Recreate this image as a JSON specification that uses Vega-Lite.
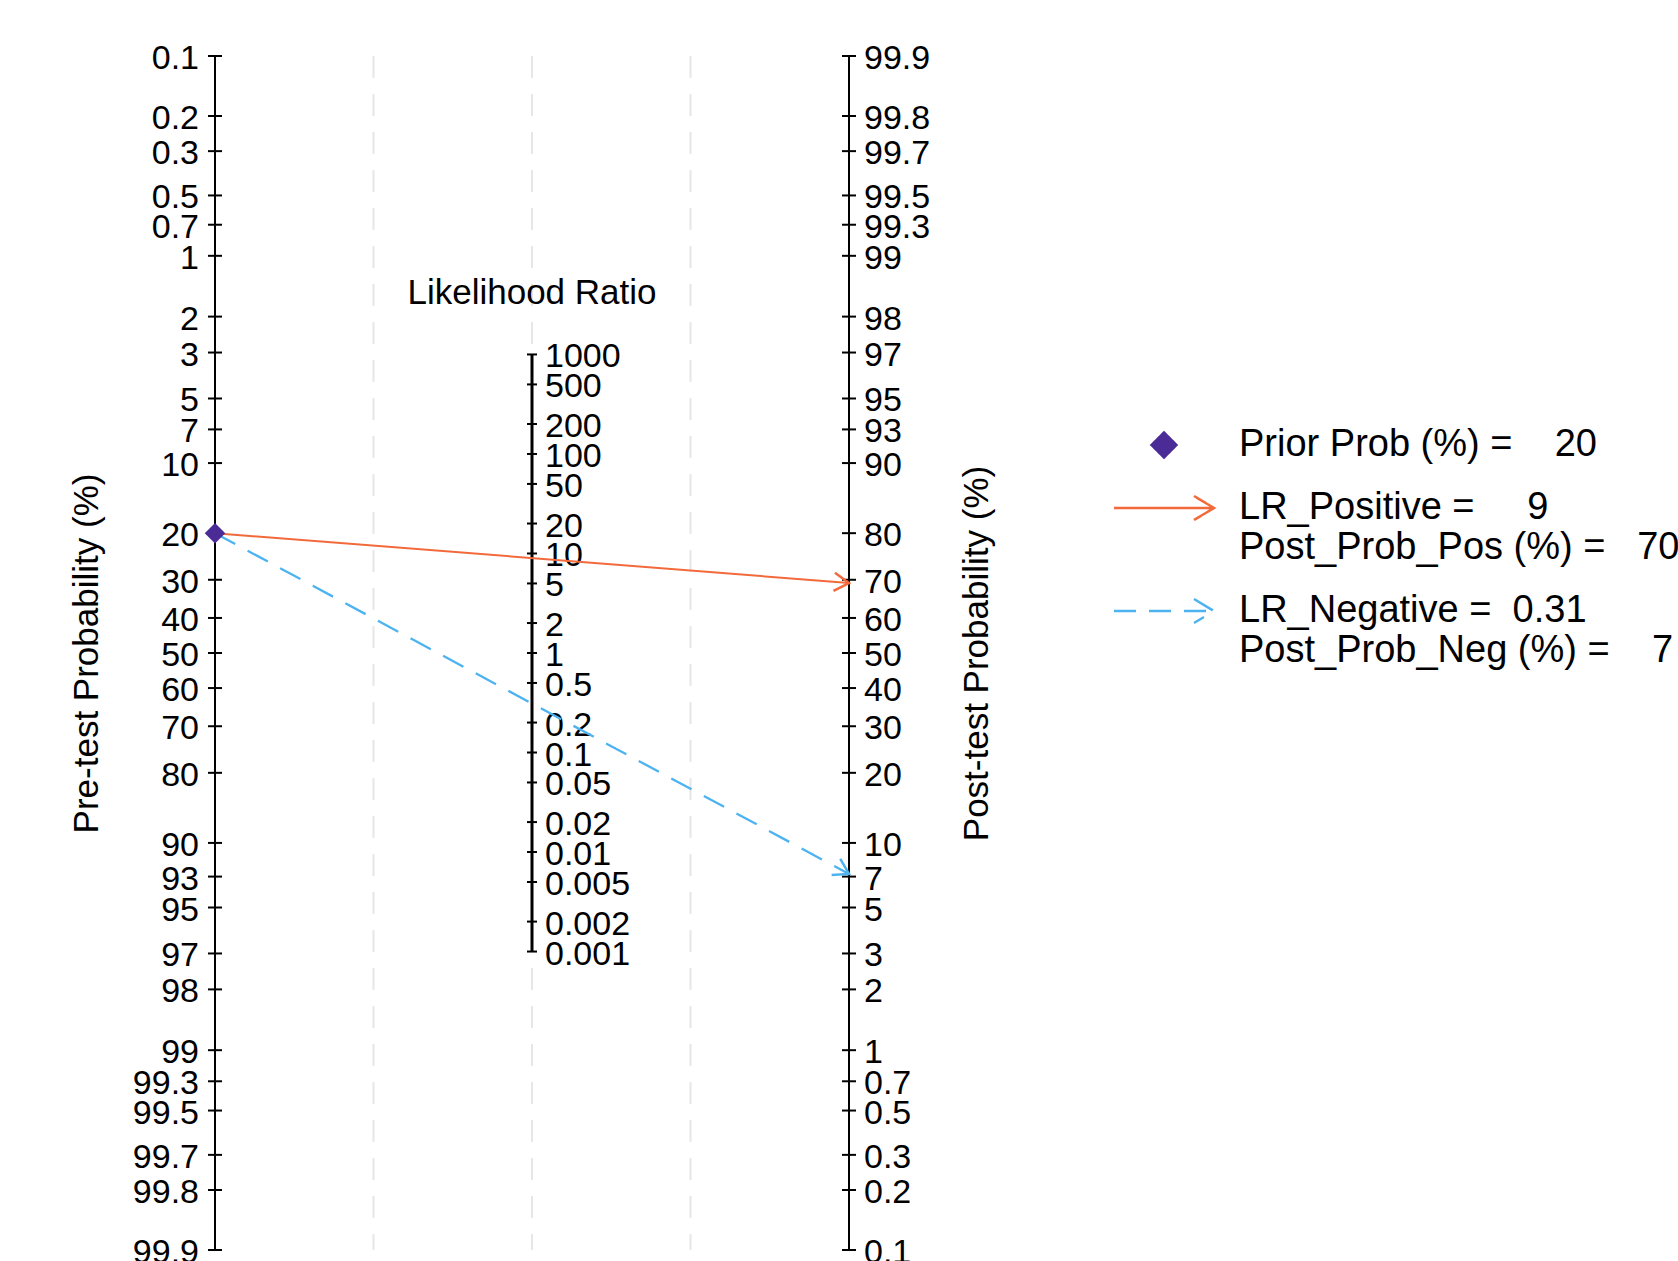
{
  "$schema": "https://vega.github.io/schema/vega-lite/v6.json",
  "width": 634,
  "height": 1194,
  "autosize": {"type": "none"},
  "padding": {"left": 215, "top": 56, "right": 829, "bottom": 11},
  "background": "white",
  "config": {
    "font": "Liberation Sans",
    "view": {"stroke": null},
    "axis": {"titleFont": "Liberation Sans", "titleFontWeight": "normal", "titleColor": "black", "titleFontSize": 35}
  },
  "datasets": {
    "ticks": [
      {"axis": "Pre", "value": 0.1}, {"axis": "Pre", "value": 0.2}, {"axis": "Pre", "value": 0.3}, {"axis": "Pre", "value": 0.5}, {"axis": "Pre", "value": 0.7},
      {"axis": "Pre", "value": 1}, {"axis": "Pre", "value": 2}, {"axis": "Pre", "value": 3}, {"axis": "Pre", "value": 5}, {"axis": "Pre", "value": 7},
      {"axis": "Pre", "value": 10}, {"axis": "Pre", "value": 20}, {"axis": "Pre", "value": 30}, {"axis": "Pre", "value": 40}, {"axis": "Pre", "value": 50},
      {"axis": "Pre", "value": 60}, {"axis": "Pre", "value": 70}, {"axis": "Pre", "value": 80}, {"axis": "Pre", "value": 90}, {"axis": "Pre", "value": 93},
      {"axis": "Pre", "value": 95}, {"axis": "Pre", "value": 97}, {"axis": "Pre", "value": 98}, {"axis": "Pre", "value": 99}, {"axis": "Pre", "value": 99.3},
      {"axis": "Pre", "value": 99.5}, {"axis": "Pre", "value": 99.7}, {"axis": "Pre", "value": 99.8}, {"axis": "Pre", "value": 99.9},
      {"axis": "Post", "value": 0.1}, {"axis": "Post", "value": 0.2}, {"axis": "Post", "value": 0.3}, {"axis": "Post", "value": 0.5}, {"axis": "Post", "value": 0.7},
      {"axis": "Post", "value": 1}, {"axis": "Post", "value": 2}, {"axis": "Post", "value": 3}, {"axis": "Post", "value": 5}, {"axis": "Post", "value": 7},
      {"axis": "Post", "value": 10}, {"axis": "Post", "value": 20}, {"axis": "Post", "value": 30}, {"axis": "Post", "value": 40}, {"axis": "Post", "value": 50},
      {"axis": "Post", "value": 60}, {"axis": "Post", "value": 70}, {"axis": "Post", "value": 80}, {"axis": "Post", "value": 90}, {"axis": "Post", "value": 93},
      {"axis": "Post", "value": 95}, {"axis": "Post", "value": 97}, {"axis": "Post", "value": 98}, {"axis": "Post", "value": 99}, {"axis": "Post", "value": 99.3},
      {"axis": "Post", "value": 99.5}, {"axis": "Post", "value": 99.7}, {"axis": "Post", "value": 99.8}, {"axis": "Post", "value": 99.9},
      {"axis": "LR", "value": 1000}, {"axis": "LR", "value": 500}, {"axis": "LR", "value": 200}, {"axis": "LR", "value": 100}, {"axis": "LR", "value": 50},
      {"axis": "LR", "value": 20}, {"axis": "LR", "value": 10}, {"axis": "LR", "value": 5}, {"axis": "LR", "value": 2}, {"axis": "LR", "value": 1},
      {"axis": "LR", "value": 0.5}, {"axis": "LR", "value": 0.2}, {"axis": "LR", "value": 0.1}, {"axis": "LR", "value": 0.05}, {"axis": "LR", "value": 0.02},
      {"axis": "LR", "value": 0.01}, {"axis": "LR", "value": 0.005}, {"axis": "LR", "value": 0.002}, {"axis": "LR", "value": 0.001}
    ],
    "lines": [
      {"test": "Positive", "axis": "Pre", "value": 20},
      {"test": "Positive", "axis": "Post", "value": 69.2},
      {"test": "Negative", "axis": "Pre", "value": 20},
      {"test": "Negative", "axis": "Post", "value": 7.2}
    ],
    "summary": [
      {"series": "Prior Prob (%) =\u00a0\u00a0\u00a0\u00a020", "axis": "Pre", "value": 20},
      {"series": "LR_Positive =\u00a0\u00a0\u00a0\u00a0\u00a09|Post_Prob_Pos (%) =\u00a0\u00a0\u00a070", "axis": "Post", "value": 69.2},
      {"series": "LR_Negative =\u00a0\u00a00.31|Post_Prob_Neg (%) =\u00a0\u00a0\u00a0\u00a07", "axis": "Post", "value": 7.2}
    ]
  },
  "resolve": {"axis": {"y": "independent"}},
  "layer": [
    {
      "data": {"values": [{"axis": "g1"}, {"axis": "LR"}, {"axis": "g2"}]},
      "mark": {"type": "rule", "strokeWidth": 2, "color": "#e6e6e6", "strokeDash": [22, 16]},
      "encoding": {
        "x": {"field": "axis", "type": "nominal",
              "scale": {"type": "point", "domain": ["Pre", "g1", "LR", "g2", "Post"], "padding": 0},
              "axis": null}
      }
    },
    {
      "data": {"name": "ticks"},
      "transform": [
        {"filter": "datum.axis != 'LR'"},
        {"calculate": "datum.axis == 'Pre' ? log((100 - datum.value) / datum.value) : log(datum.value / (100 - datum.value))", "as": "v"}
      ],
      "mark": {"type": "rule", "strokeWidth": 2, "color": "black"},
      "encoding": {
        "x": {"field": "axis", "type": "nominal", "axis": null},
        "y": {"aggregate": "min", "field": "v", "type": "quantitative", "scale": {"nice": false, "zero": false}, "axis": null},
        "y2": {"aggregate": "max", "field": "v"}
      }
    },
    {
      "data": {"name": "ticks"},
      "transform": [
        {"filter": "datum.axis == 'LR'"},
        {"calculate": "log(datum.value) / 2", "as": "v"}
      ],
      "mark": {"type": "rule", "strokeWidth": 3, "color": "black"},
      "encoding": {
        "x": {"field": "axis", "type": "nominal", "axis": null},
        "y": {"aggregate": "min", "field": "v", "type": "quantitative", "axis": null},
        "y2": {"aggregate": "max", "field": "v"}
      }
    },
    {
      "data": {"name": "ticks"},
      "transform": [
        {"filter": "datum.axis == 'Pre'"},
        {"calculate": "log((100 - datum.value) / datum.value)", "as": "v"}
      ],
      "mark": {"type": "tick", "size": 14, "thickness": 2, "color": "black", "opacity": 1},
      "encoding": {
        "x": {"field": "axis", "type": "nominal", "axis": null},
        "y": {"field": "v", "type": "quantitative",
              "axis": {"orient": "left", "title": "Pre-test Probability (%)", "labels": false, "ticks": false, "domain": false, "grid": false, "titlePadding": 111}}
      }
    },
    {
      "data": {"name": "ticks"},
      "transform": [
        {"filter": "datum.axis == 'Post'"},
        {"calculate": "log(datum.value / (100 - datum.value))", "as": "v"}
      ],
      "mark": {"type": "tick", "size": 14, "thickness": 2, "color": "black", "opacity": 1},
      "encoding": {
        "x": {"field": "axis", "type": "nominal", "axis": null},
        "y": {"field": "v", "type": "quantitative",
              "axis": {"orient": "right", "title": "Post-test Probability (%)", "titleAngle": 270, "titleBaseline": "top", "labels": false, "ticks": false, "domain": false, "grid": false, "titlePadding": 110}}
      }
    },
    {
      "data": {"name": "ticks"},
      "transform": [
        {"filter": "datum.axis == 'LR'"},
        {"calculate": "log(datum.value) / 2", "as": "v"}
      ],
      "mark": {"type": "tick", "size": 10, "thickness": 2, "color": "black", "opacity": 1},
      "encoding": {
        "x": {"field": "axis", "type": "nominal", "axis": null},
        "y": {"field": "v", "type": "quantitative", "axis": null}
      }
    },
    {
      "data": {"name": "ticks"},
      "transform": [
        {"filter": "datum.axis == 'Pre'"},
        {"calculate": "log((100 - datum.value) / datum.value)", "as": "v"}
      ],
      "mark": {"type": "text", "align": "right", "baseline": "middle", "dx": -16, "dy": 3, "fontSize": 34, "color": "black"},
      "encoding": {
        "x": {"field": "axis", "type": "nominal", "axis": null},
        "y": {"field": "v", "type": "quantitative", "axis": null},
        "text": {"field": "value", "type": "nominal"}
      }
    },
    {
      "data": {"name": "ticks"},
      "transform": [
        {"filter": "datum.axis == 'Post'"},
        {"calculate": "log(datum.value / (100 - datum.value))", "as": "v"}
      ],
      "mark": {"type": "text", "align": "left", "baseline": "middle", "dx": 15, "dy": 3, "fontSize": 34, "color": "black"},
      "encoding": {
        "x": {"field": "axis", "type": "nominal", "axis": null},
        "y": {"field": "v", "type": "quantitative", "axis": null},
        "text": {"field": "value", "type": "nominal"}
      }
    },
    {
      "data": {"name": "ticks"},
      "transform": [
        {"filter": "datum.axis == 'LR'"},
        {"calculate": "log(datum.value) / 2", "as": "v"}
      ],
      "mark": {"type": "text", "align": "left", "baseline": "middle", "dx": 13, "dy": 3, "fontSize": 34, "color": "black"},
      "encoding": {
        "x": {"field": "axis", "type": "nominal", "axis": null},
        "y": {"field": "v", "type": "quantitative", "axis": null},
        "text": {"field": "value", "type": "nominal"}
      }
    },
    {
      "data": {"name": "ticks"},
      "transform": [
        {"filter": "datum.axis == 'LR' && datum.value == 1000"},
        {"calculate": "log(datum.value) / 2", "as": "v"}
      ],
      "mark": {"type": "text", "text": "Likelihood Ratio", "align": "center", "baseline": "alphabetic", "dy": -50, "fontSize": 35, "color": "black"},
      "encoding": {
        "x": {"field": "axis", "type": "nominal", "axis": null},
        "y": {"field": "v", "type": "quantitative", "axis": null}
      }
    },
    {
      "data": {"name": "lines"},
      "transform": [
        {"filter": "datum.test == 'Positive'"},
        {"calculate": "datum.axis == 'Pre' ? log((100 - datum.value) / datum.value) : log(datum.value / (100 - datum.value))", "as": "v"}
      ],
      "mark": {"type": "line", "color": "#F26A3C", "strokeWidth": 2},
      "encoding": {
        "x": {"field": "axis", "type": "nominal", "axis": null},
        "y": {"field": "v", "type": "quantitative", "axis": null}
      }
    },
    {
      "data": {"name": "lines"},
      "transform": [
        {"filter": "datum.test == 'Negative'"},
        {"calculate": "datum.axis == 'Pre' ? log((100 - datum.value) / datum.value) : log(datum.value / (100 - datum.value))", "as": "v"}
      ],
      "mark": {"type": "line", "color": "#4DB3F0", "strokeWidth": 2.3, "strokeDash": [23, 14]},
      "encoding": {
        "x": {"field": "axis", "type": "nominal", "sort": ["Pre", "Post"], "axis": null},
        "y": {"field": "v", "type": "quantitative", "axis": null}
      }
    },
    {
      "data": {"name": "lines"},
      "transform": [
        {"filter": "datum.test == 'Positive' && datum.axis == 'Post'"},
        {"calculate": "log(datum.value / (100 - datum.value))", "as": "v"}
      ],
      "mark": {"type": "point", "shape": "M-2.6,-1.6L0,0L-2.6,1.6", "size": 130, "angle": 4.5, "filled": false, "color": "#F26A3C", "strokeWidth": 2.5, "opacity": 1},
      "encoding": {
        "x": {"field": "axis", "type": "nominal", "axis": null},
        "y": {"field": "v", "type": "quantitative", "axis": null}
      }
    },
    {
      "data": {"name": "lines"},
      "transform": [
        {"filter": "datum.test == 'Negative' && datum.axis == 'Post'"},
        {"calculate": "log(datum.value / (100 - datum.value))", "as": "v"}
      ],
      "mark": {"type": "point", "shape": "M-2.6,-1.6L0,0L-2.6,1.6", "size": 130, "angle": 28.3, "filled": false, "color": "#4DB3F0", "strokeWidth": 2.5, "opacity": 1},
      "encoding": {
        "x": {"field": "axis", "type": "nominal", "axis": null},
        "y": {"field": "v", "type": "quantitative", "axis": null}
      }
    },
    {
      "data": {"name": "lines"},
      "transform": [
        {"filter": "datum.test == 'Positive' && datum.axis == 'Pre'"},
        {"calculate": "log((100 - datum.value) / datum.value)", "as": "v"}
      ],
      "mark": {"type": "point", "shape": "diamond", "size": 420, "filled": true, "color": "#4B2C97", "opacity": 1},
      "encoding": {
        "x": {"field": "axis", "type": "nominal", "axis": null},
        "y": {"field": "v", "type": "quantitative", "axis": null}
      }
    },
    {
      "data": {"name": "summary"},
      "transform": [
        {"calculate": "datum.axis == 'Pre' ? log((100 - datum.value) / datum.value) : log(datum.value / (100 - datum.value))", "as": "v"}
      ],
      "mark": {"type": "point", "size": 0, "opacity": 1},
      "encoding": {
        "x": {"field": "axis", "type": "nominal", "axis": null},
        "y": {"field": "v", "type": "quantitative", "axis": null},
        "shape": {"field": "series", "type": "nominal",
          "scale": {"domain": ["Prior Prob (%) =\u00a0\u00a0\u00a0\u00a020", "LR_Positive =\u00a0\u00a0\u00a0\u00a0\u00a09|Post_Prob_Pos (%) =\u00a0\u00a0\u00a070", "LR_Negative =\u00a0\u00a00.31|Post_Prob_Neg (%) =\u00a0\u00a0\u00a0\u00a07"],
                    "range": ["M-5,0M5,0M0,-1.25L1.25,0L0,1.25L-1.25,0Z", "M-5,0L5,0M3,-1.2L5,0L3,1.2", "M-5,0L5,0M3,-1.2L5,0L3,1.2"]},
          "legend": {"title": null, "orient": "none", "legendX": 930, "legendY": 370, "padding": 0, "rowPadding": 25, "direction": "vertical",
                     "symbolSize": 400, "symbolStrokeWidth": 2.5, "symbolOpacity": 1, "labelOffset": 56, "labelFontSize": 38, "labelFont": "Liberation Sans",
                     "labelColor": "black", "labelLimit": 3000, "labelExpr": "split(datum.label, '|')"}},
        "fill": {"field": "series", "type": "nominal",
          "scale": {"domain": ["Prior Prob (%) =\u00a0\u00a0\u00a0\u00a020", "LR_Positive =\u00a0\u00a0\u00a0\u00a0\u00a09|Post_Prob_Pos (%) =\u00a0\u00a0\u00a070", "LR_Negative =\u00a0\u00a00.31|Post_Prob_Neg (%) =\u00a0\u00a0\u00a0\u00a07"],
                    "range": ["#4B2C97", "transparent", "transparent"]},
          "legend": {"title": null, "orient": "none", "legendX": 930, "legendY": 370, "padding": 0, "rowPadding": 25, "direction": "vertical",
                     "symbolSize": 400, "symbolStrokeWidth": 2.5, "symbolOpacity": 1, "labelOffset": 56, "labelFontSize": 38, "labelFont": "Liberation Sans",
                     "labelColor": "black", "labelLimit": 3000, "labelExpr": "split(datum.label, '|')"}},
        "stroke": {"field": "series", "type": "nominal",
          "scale": {"domain": ["Prior Prob (%) =\u00a0\u00a0\u00a0\u00a020", "LR_Positive =\u00a0\u00a0\u00a0\u00a0\u00a09|Post_Prob_Pos (%) =\u00a0\u00a0\u00a070", "LR_Negative =\u00a0\u00a00.31|Post_Prob_Neg (%) =\u00a0\u00a0\u00a0\u00a07"],
                    "range": ["#4B2C97", "#F26A3C", "#4DB3F0"]},
          "legend": {"title": null, "orient": "none", "legendX": 930, "legendY": 370, "padding": 0, "rowPadding": 25, "direction": "vertical",
                     "symbolSize": 400, "symbolStrokeWidth": 2.5, "symbolOpacity": 1, "labelOffset": 56, "labelFontSize": 38, "labelFont": "Liberation Sans",
                     "labelColor": "black", "labelLimit": 3000, "labelExpr": "split(datum.label, '|')"}},
        "strokeDash": {"field": "series", "type": "nominal",
          "scale": {"domain": ["Prior Prob (%) =\u00a0\u00a0\u00a0\u00a020", "LR_Positive =\u00a0\u00a0\u00a0\u00a0\u00a09|Post_Prob_Pos (%) =\u00a0\u00a0\u00a070", "LR_Negative =\u00a0\u00a00.31|Post_Prob_Neg (%) =\u00a0\u00a0\u00a0\u00a07"],
                    "range": [[1, 0], [1, 0], [22, 13]]},
          "legend": {"title": null, "orient": "none", "legendX": 930, "legendY": 370, "padding": 0, "rowPadding": 25, "direction": "vertical",
                     "symbolSize": 400, "symbolStrokeWidth": 2.5, "symbolOpacity": 1, "labelOffset": 56, "labelFontSize": 38, "labelFont": "Liberation Sans",
                     "labelColor": "black", "labelLimit": 3000, "labelExpr": "split(datum.label, '|')"}}
      }
    }
  ]
}
